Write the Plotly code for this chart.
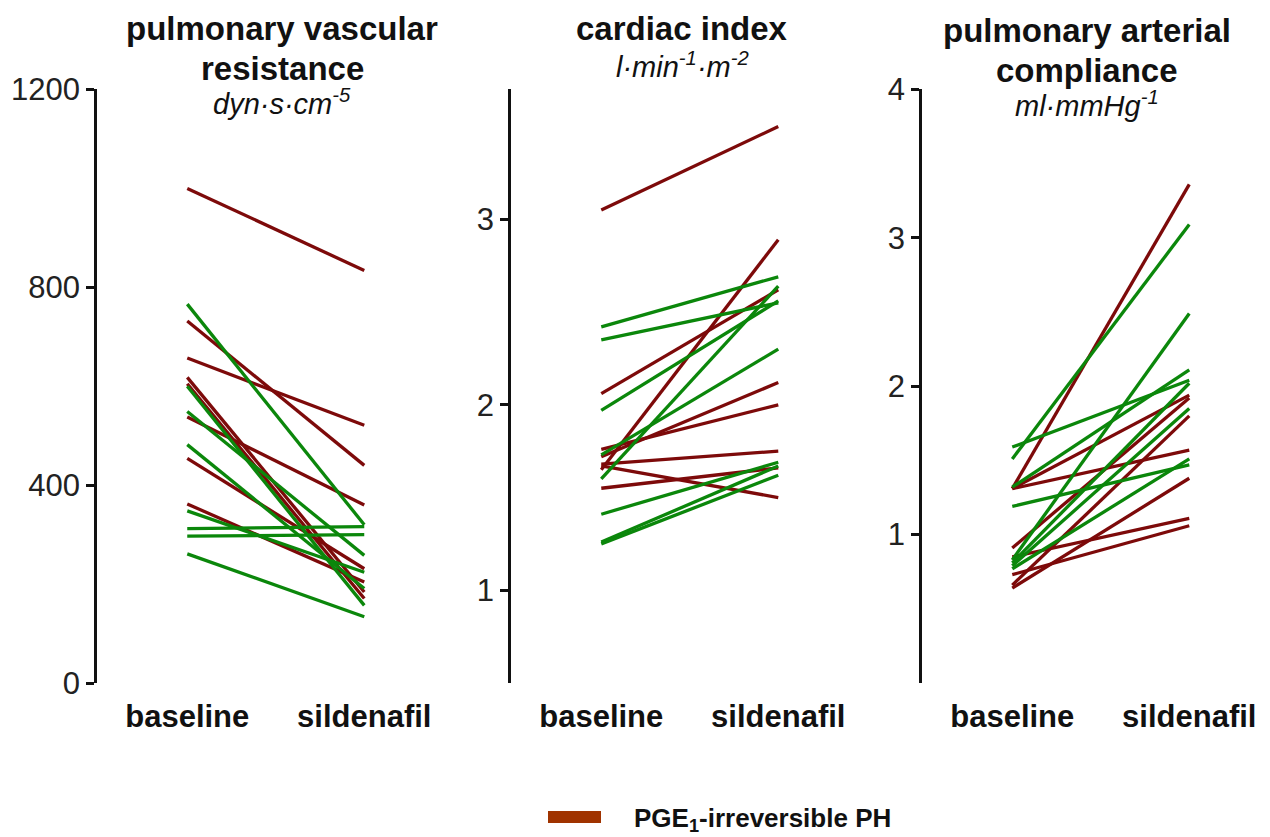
import plotly.graph_objects as go

W, H = 1270, 837

# ---------- data ----------
conditions = ["baseline", "sildenafil"]

pvr_red_base = [1000, 732, 657, 538, 618, 605, 454, 362]
pvr_red_sild = [834, 440, 521, 360, 184, 171, 231, 204]
pvr_green_base = [766, 312, 297, 261, 348, 600, 549, 482]
pvr_green_sild = [320, 316, 300, 134, 224, 157, 258, 191]

ci_red_base = [3.05, 2.06, 1.76, 1.72, 1.68, 1.65, 1.67, 1.55]
ci_red_sild = [3.50, 2.62, 2.00, 2.12, 1.75, 2.89, 1.50, 1.66]
ci_green_base = [2.42, 2.35, 1.97, 1.73, 1.60, 1.41, 1.26, 1.25]
ci_green_sild = [2.69, 2.55, 2.56, 2.30, 2.64, 1.69, 1.67, 1.62]

pac_red_base = [1.31, 1.31, 1.31, 0.91, 0.85, 0.73, 0.66, 0.64]
pac_red_sild = [3.36, 1.94, 1.57, 1.92, 1.11, 1.06, 1.80, 1.38]
pac_green_base = [1.51, 1.59, 1.19, 1.32, 0.83, 0.81, 0.79, 0.77]
pac_green_sild = [3.09, 2.04, 1.47, 2.11, 2.49, 2.02, 1.85, 1.51]

panel_titles = ["pulmonary vascular<br>resistance", "cardiac index", "pulmonary arterial<br>compliance"]
panel_units = ["dyn·s·cm<sup>-5</sup>", "l·min<sup>-1</sup>·m<sup>-2</sup>", "ml·mmHg<sup>-1</sup>"]
y_ranges = [[0, 1200], [0.5, 3.7], [0, 4]]
y_ticks = [[0, 400, 800, 1200], [1, 2, 3], [1, 2, 3, 4]]
legend_label = "PGE<sub>1</sub>-irreversible PH"

RED = "#7d0a0a"
GREEN = "#0b870b"
LEGEND_RED = "#a03300"
FONT = "Liberation Sans, Arial"

panels = [
    (pvr_red_base, pvr_red_sild, pvr_green_base, pvr_green_sild),
    (ci_red_base, ci_red_sild, ci_green_base, ci_green_sild),
    (pac_red_base, pac_red_sild, pac_green_base, pac_green_sild),
]

fig = go.Figure()

# pixel layout
axis_left_px = [97, 511, 922]
x_range = [-0.51, 1.45]
unit_px = 177
plot_top_px, plot_bot_px = 88, 686

def px_x(p):
    return p / W

def px_y(p):
    # calibrated to the rendering viewport
    return 1 - (p - 15) / 808

layout_axes = {}
for i, (rb, rs, gb, gs) in enumerate(panels):
    n = "" if i == 0 else str(i + 1)
    xa, ya = "x" + n, "y" + n
    for b, s in zip(rb, rs):
        fig.add_trace(go.Scatter(x=[0, 1], y=[b, s], mode="lines",
                                 line=dict(color=RED, width=3.3), showlegend=False,
                                 xaxis=xa, yaxis=ya))
    for b, s in zip(gb, gs):
        fig.add_trace(go.Scatter(x=[0, 1], y=[b, s], mode="lines",
                                 line=dict(color=GREEN, width=3.3), showlegend=False,
                                 xaxis=xa, yaxis=ya))
    left = axis_left_px[i]
    right = left + unit_px * (x_range[1] - x_range[0])
    layout_axes["xaxis" + n] = dict(
        domain=[px_x(left), px_x(right)], range=x_range, anchor=ya,
        tickvals=[0, 1], ticktext=["<b>%s</b>" % c for c in conditions],
        showline=False, showgrid=False, zeroline=False, ticks="",
        tickfont=dict(family=FONT, size=31, color="#111"),
        ticklabelstandoff=12,
    )
    layout_axes["yaxis" + n] = dict(
        domain=[px_y(plot_bot_px), px_y(plot_top_px)], range=y_ranges[i], anchor=xa,
        tickvals=y_ticks[i], showline=True, linecolor="#111", linewidth=2.5,
        ticks="outside", ticklen=8, tickwidth=2.5, tickcolor="#111",
        showgrid=False, zeroline=False,
        tickfont=dict(family=FONT, size=31, color="#222"),
    )

fig.update_layout(
    width=W, height=H, margin=dict(l=0, r=0, t=0, b=0),
    plot_bgcolor="white", paper_bgcolor="white", showlegend=False,
    **layout_axes,
)

title_cx = [282, 682, 1087]
title_line_y = [[27, 67], [27], [29, 69]]
unit_y = [101, 63, 103]
for i in range(3):
    lines = panel_titles[i].split("<br>")
    for line, ly in zip(lines, title_line_y[i]):
        fig.add_annotation(x=px_x(title_cx[i]), y=px_y(ly), xref="paper", yref="paper",
                           xanchor="center", yanchor="middle", showarrow=False,
                           text="<b>%s</b>" % line,
                           font=dict(family=FONT, size=33, color="#111"))
    fig.add_annotation(x=px_x(title_cx[i]), y=px_y(unit_y[i]), xref="paper", yref="paper",
                       xanchor="center", yanchor="middle", showarrow=False,
                       text="<i>%s</i>" % panel_units[i],
                       font=dict(family=FONT, size=29, color="#111"))

# legend entry (bottom)
fig.add_shape(type="rect", xref="paper", yref="paper",
              x0=px_x(548), x1=px_x(601), y0=px_y(827), y1=px_y(815),
              fillcolor=LEGEND_RED, line=dict(width=0))
fig.add_annotation(x=px_x(632), y=px_y(824), xref="paper", yref="paper",
                   xanchor="left", yanchor="middle", showarrow=False,
                   text="<b>%s</b>" % legend_label,
                   font=dict(family=FONT, size=26, color="#111"))

fig.write_html("out.html")
